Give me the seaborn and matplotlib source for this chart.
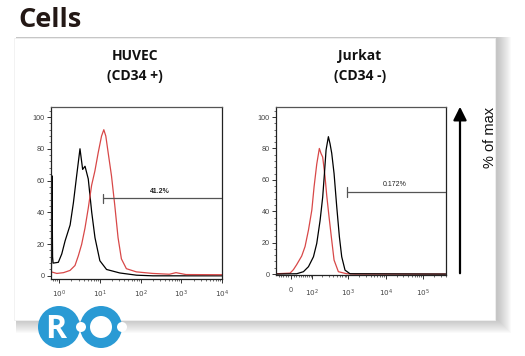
import numpy as np
import pandas as pd
import matplotlib
matplotlib.use("Agg")
import matplotlib.pyplot as plt
from matplotlib.patches import Rectangle, Circle, FancyArrowPatch
from matplotlib.ticker import FixedLocator, MultipleLocator, NullFormatter
import seaborn as sns

# ---------------- data ----------------
title = "Cells"
panel_titles = ["HUVEC\n(CD34 +)", "Jurkat\n(CD34 -)"]
y_label = "% of max"

# HUVEC panel (log x axis)
huvec_black_x = [0.645, 0.665, 0.676, 0.69, 0.71, 0.955, 1.16, 1.40, 1.86, 2.24, 2.69, 3.25,
                 3.78, 4.32, 5.19, 6.31, 7.59, 10.0, 14.6, 30.9, 79.4, 200, 10000]
huvec_black_y = [0, 63, 40, 12, 8, 8.5, 13.8, 22, 32, 46, 63, 80,
                 67, 69, 61, 40, 24, 9.5, 4, 1.8, 0.4, 0, 0]
huvec_red_x = [0.638, 0.877, 1.28, 1.85, 2.45, 2.96, 3.57, 4.31, 5.19, 6.27, 7.55, 9.10,
               11.0, 12.5, 14.0, 16.0, 19.3, 23.2, 28.0, 33.8, 44.8, 78.5, 200, 509,
               741, 1300, 8410, 10000]
huvec_red_y = [2.5, 1.5, 2, 3.4, 6.5, 12.6, 19.8, 30, 42.6, 57, 66, 77.5,
               88, 92, 88, 77.5, 63, 44.6, 24, 10.7, 4.5, 2.5, 1.5, 1,
               2, 0.8, 0.7, 0.7]
huvec_gate = (11.9, 48.8)
huvec_gate_label = ("41.2%", 298, 53)
huvec_xticks = [1, 10, 100, 1000, 10000]
huvec_xticklabels = [r"$10^0$", r"$10^1$", r"$10^2$", r"$10^3$", r"$10^4$"]

# Jurkat panel (biexponential-like x axis)
jurkat_red_x = [-60, -3.7, 8.6, 21, 42, 58, 77, 99, 116, 139, 165, 184, 205, 238,
                265, 306, 362, 419, 547, 912, 1500, 400000]
jurkat_red_y = [0.2, 0.6, 2.8, 6, 11.5, 17.5, 28, 40.8, 55.6, 70, 80, 76.8, 74.5, 62,
                50, 36.5, 21.6, 8.9, 1.5, 0.2, 0, 0]
jurkat_black_x = [-60, 21, 50, 77, 111, 139, 173, 205, 229, 254, 294, 326, 362, 419,
                  494, 582, 673, 825, 1120, 400000]
jurkat_black_y = [0, 0.2, 1.5, 4.7, 11, 19.5, 34, 49, 64, 79, 87.5, 83, 77, 64,
                  43, 23.8, 11, 2.5, 0.2, 0]
jurkat_gate = (933, 52.2)
jurkat_gate_label = ("0.172%", 17800, 57)
jurkat_xticks = [0, 100, 1000, 10000, 100000]
jurkat_xticklabels = ["0", r"$10^2$", r"$10^3$", r"$10^4$", r"$10^5$"]

yticks = [0, 20, 40, 60, 80, 100]

# ---------------- style ----------------
sns.set_theme(style="white")
plt.rcParams["font.family"] = ["Open Sans", "DejaVu Sans"]
plt.rcParams["mathtext.fontset"] = "dejavusans"

W, H = 525, 356
fig = plt.figure(figsize=(W / 100, H / 100), dpi=100)
fig.patch.set_facecolor("white")

# background overlay in pixel coordinates
bg = fig.add_axes([0, 0, 1, 1], zorder=-5)
bg.set_xlim(0, W)
bg.set_ylim(H, 0)
bg.axis("off")

# card shadow + card
cx0, cy0, cx1, cy1 = 14, 38, 495, 320
for k in range(14, 0, -1):
    bg.add_patch(Rectangle((cx0 + 2, cy0 - 1), (cx1 - cx0) + k, (cy1 - cy0) + k,
                           facecolor="#7a7a7a", edgecolor="none", alpha=0.035, zorder=1))
bg.add_patch(Rectangle((cx0, cy0), cx1 - cx0, cy1 - cy0, facecolor="white",
                       edgecolor="#f0f0f0", linewidth=0.6, zorder=2))

bg.text(18, 20, title, fontsize=19.5, fontweight="bold", color="#231815",
        ha="left", va="center", zorder=5)

# arrow and y label
bg.add_patch(FancyArrowPatch((460, 276), (460, 104), arrowstyle="-|>,head_length=5,head_width=2.5",
                             mutation_scale=1.6, color="black", linewidth=1.6, zorder=5))
bg.text(490, 137, y_label, rotation=90, fontsize=10.5, ha="center", va="center",
        family=["Liberation Sans", "DejaVu Sans"], color="#111111", zorder=5)

# logo
blue = "#2a9ad4"
bg.add_patch(Circle((59, 327), 21, facecolor=blue, edgecolor="none", zorder=5))
bg.add_patch(Circle((101, 327), 21, facecolor=blue, edgecolor="none", zorder=5))
bg.add_patch(Circle((101, 327), 11, facecolor="white", edgecolor="none", zorder=6))
bg.add_patch(Circle((81, 327), 5, facecolor="white", edgecolor="none", zorder=6))
bg.add_patch(Circle((122, 327), 5, facecolor="white", edgecolor="none", zorder=6))
bg.text(56, 329, "R", fontsize=23, fontweight="bold", color="white",
        ha="center", va="center", zorder=7)


def style_axes(ax):
    ax.set_facecolor("white")
    for s in ax.spines.values():
        s.set_visible(True)
        s.set_color("#222222")
        s.set_linewidth(0.9)
    ax.spines["top"].set_color("#555555")
    ax.tick_params(axis="both", which="major", direction="out", length=3, width=0.7,
                   color="#333333", pad=1.5, labelsize=5.2, labelcolor="#444444",
                   bottom=True, left=True)
    ax.tick_params(axis="both", which="minor", direction="out", length=1.6, width=0.5,
                   color="#333333", bottom=True, left=True)
    ax.set_xlabel("")
    ax.set_ylabel("")
    ax.yaxis.set_major_locator(FixedLocator(yticks))
    ax.yaxis.set_minor_locator(MultipleLocator(4))
    ax.set_yticklabels([str(t) for t in yticks], family=["Liberation Sans", "DejaVu Sans"])


# ---------------- HUVEC ----------------
ax1 = fig.add_axes([51 / W, 1 - 279 / H, 171 / W, 172 / H])
ax1.set_xscale("log")
sns.lineplot(x=huvec_black_x, y=huvec_black_y, ax=ax1, color="black", linewidth=0.9,
             estimator=None, sort=False)
sns.lineplot(x=huvec_red_x, y=huvec_red_y, ax=ax1, color="#d84848", linewidth=0.9,
             estimator=None, sort=False)
ax1.set_xlim(10 ** -0.2, 10 ** 4.0)
ax1.set_ylim(-2, 106.3)
style_axes(ax1)
ax1.set_xticks(huvec_xticks)
ax1.set_xticklabels(huvec_xticklabels, fontsize=5.2, color="#444444")
ax1.tick_params(axis="x", which="major", pad=4)
ax1.xaxis.set_minor_locator(FixedLocator([m * 10 ** d for d in range(-1, 4) for m in range(2, 10)]))
ax1.xaxis.set_minor_formatter(NullFormatter())
gx, gy = huvec_gate
ax1.plot([gx, 10 ** 4.0], [gy, gy], color="#555555", linewidth=0.9, zorder=4)
ax1.plot([gx, gx], [gy - 3, gy + 3], color="#555555", linewidth=0.9, zorder=4)
ax1.text(huvec_gate_label[1], huvec_gate_label[2], huvec_gate_label[0], fontsize=5,
         fontweight="bold", ha="center", va="center", color="#222222",
         family=["Liberation Sans", "DejaVu Sans"])

# ---------------- Jurkat ----------------
C = 60.0


def fwd(x):
    return np.arcsinh(np.asarray(x) / C) / np.log(10)


def inv(y):
    return C * np.sinh(np.asarray(y) * np.log(10))


ax2 = fig.add_axes([276 / W, 1 - 275 / H, 170 / W, 168 / H])
ax2.set_xscale("function", functions=(fwd, inv))
sns.lineplot(x=jurkat_red_x, y=jurkat_red_y, ax=ax2, color="#d84848", linewidth=0.9,
             estimator=None, sort=False)
sns.lineplot(x=jurkat_black_x, y=jurkat_black_y, ax=ax2, color="black", linewidth=0.9,
             estimator=None, sort=False)
ax2.set_xlim(-64, 4.1e5)
ax2.set_ylim(-0.6, 106.4)
style_axes(ax2)
ax2.set_xticks(jurkat_xticks)
ax2.set_xticklabels(jurkat_xticklabels, fontsize=5.2, color="#444444")
ax2.tick_params(axis="x", which="major", pad=6)
minors = [-50, -40, -30, -20, -10, 10, 20, 30, 40, 50, 60, 70, 80, 90] + \
         [m * 10 ** d for d in range(2, 6) for m in range(2, 10)]
ax2.xaxis.set_minor_locator(FixedLocator(minors))
ax2.xaxis.set_minor_formatter(NullFormatter())
gx, gy = jurkat_gate
ax2.plot([gx, 4.1e5], [gy, gy], color="#555555", linewidth=0.9, zorder=4)
ax2.plot([gx, gx], [gy - 3, gy + 3], color="#555555", linewidth=0.9, zorder=4)
ax2.text(jurkat_gate_label[1], jurkat_gate_label[2], jurkat_gate_label[0], fontsize=5,
         ha="center", va="center", color="#222222",
         family=["Liberation Sans", "DejaVu Sans"])

# panel titles
bg.text(135, 66, panel_titles[0], fontsize=10, fontweight="bold", ha="center", va="center",
        linespacing=1.6, color="#111111", zorder=5)
bg.text(360, 66, panel_titles[1], fontsize=10, fontweight="bold", ha="center", va="center",
        linespacing=1.6, color="#111111", zorder=5)

fig.savefig("out.png", dpi=100, facecolor="white")
